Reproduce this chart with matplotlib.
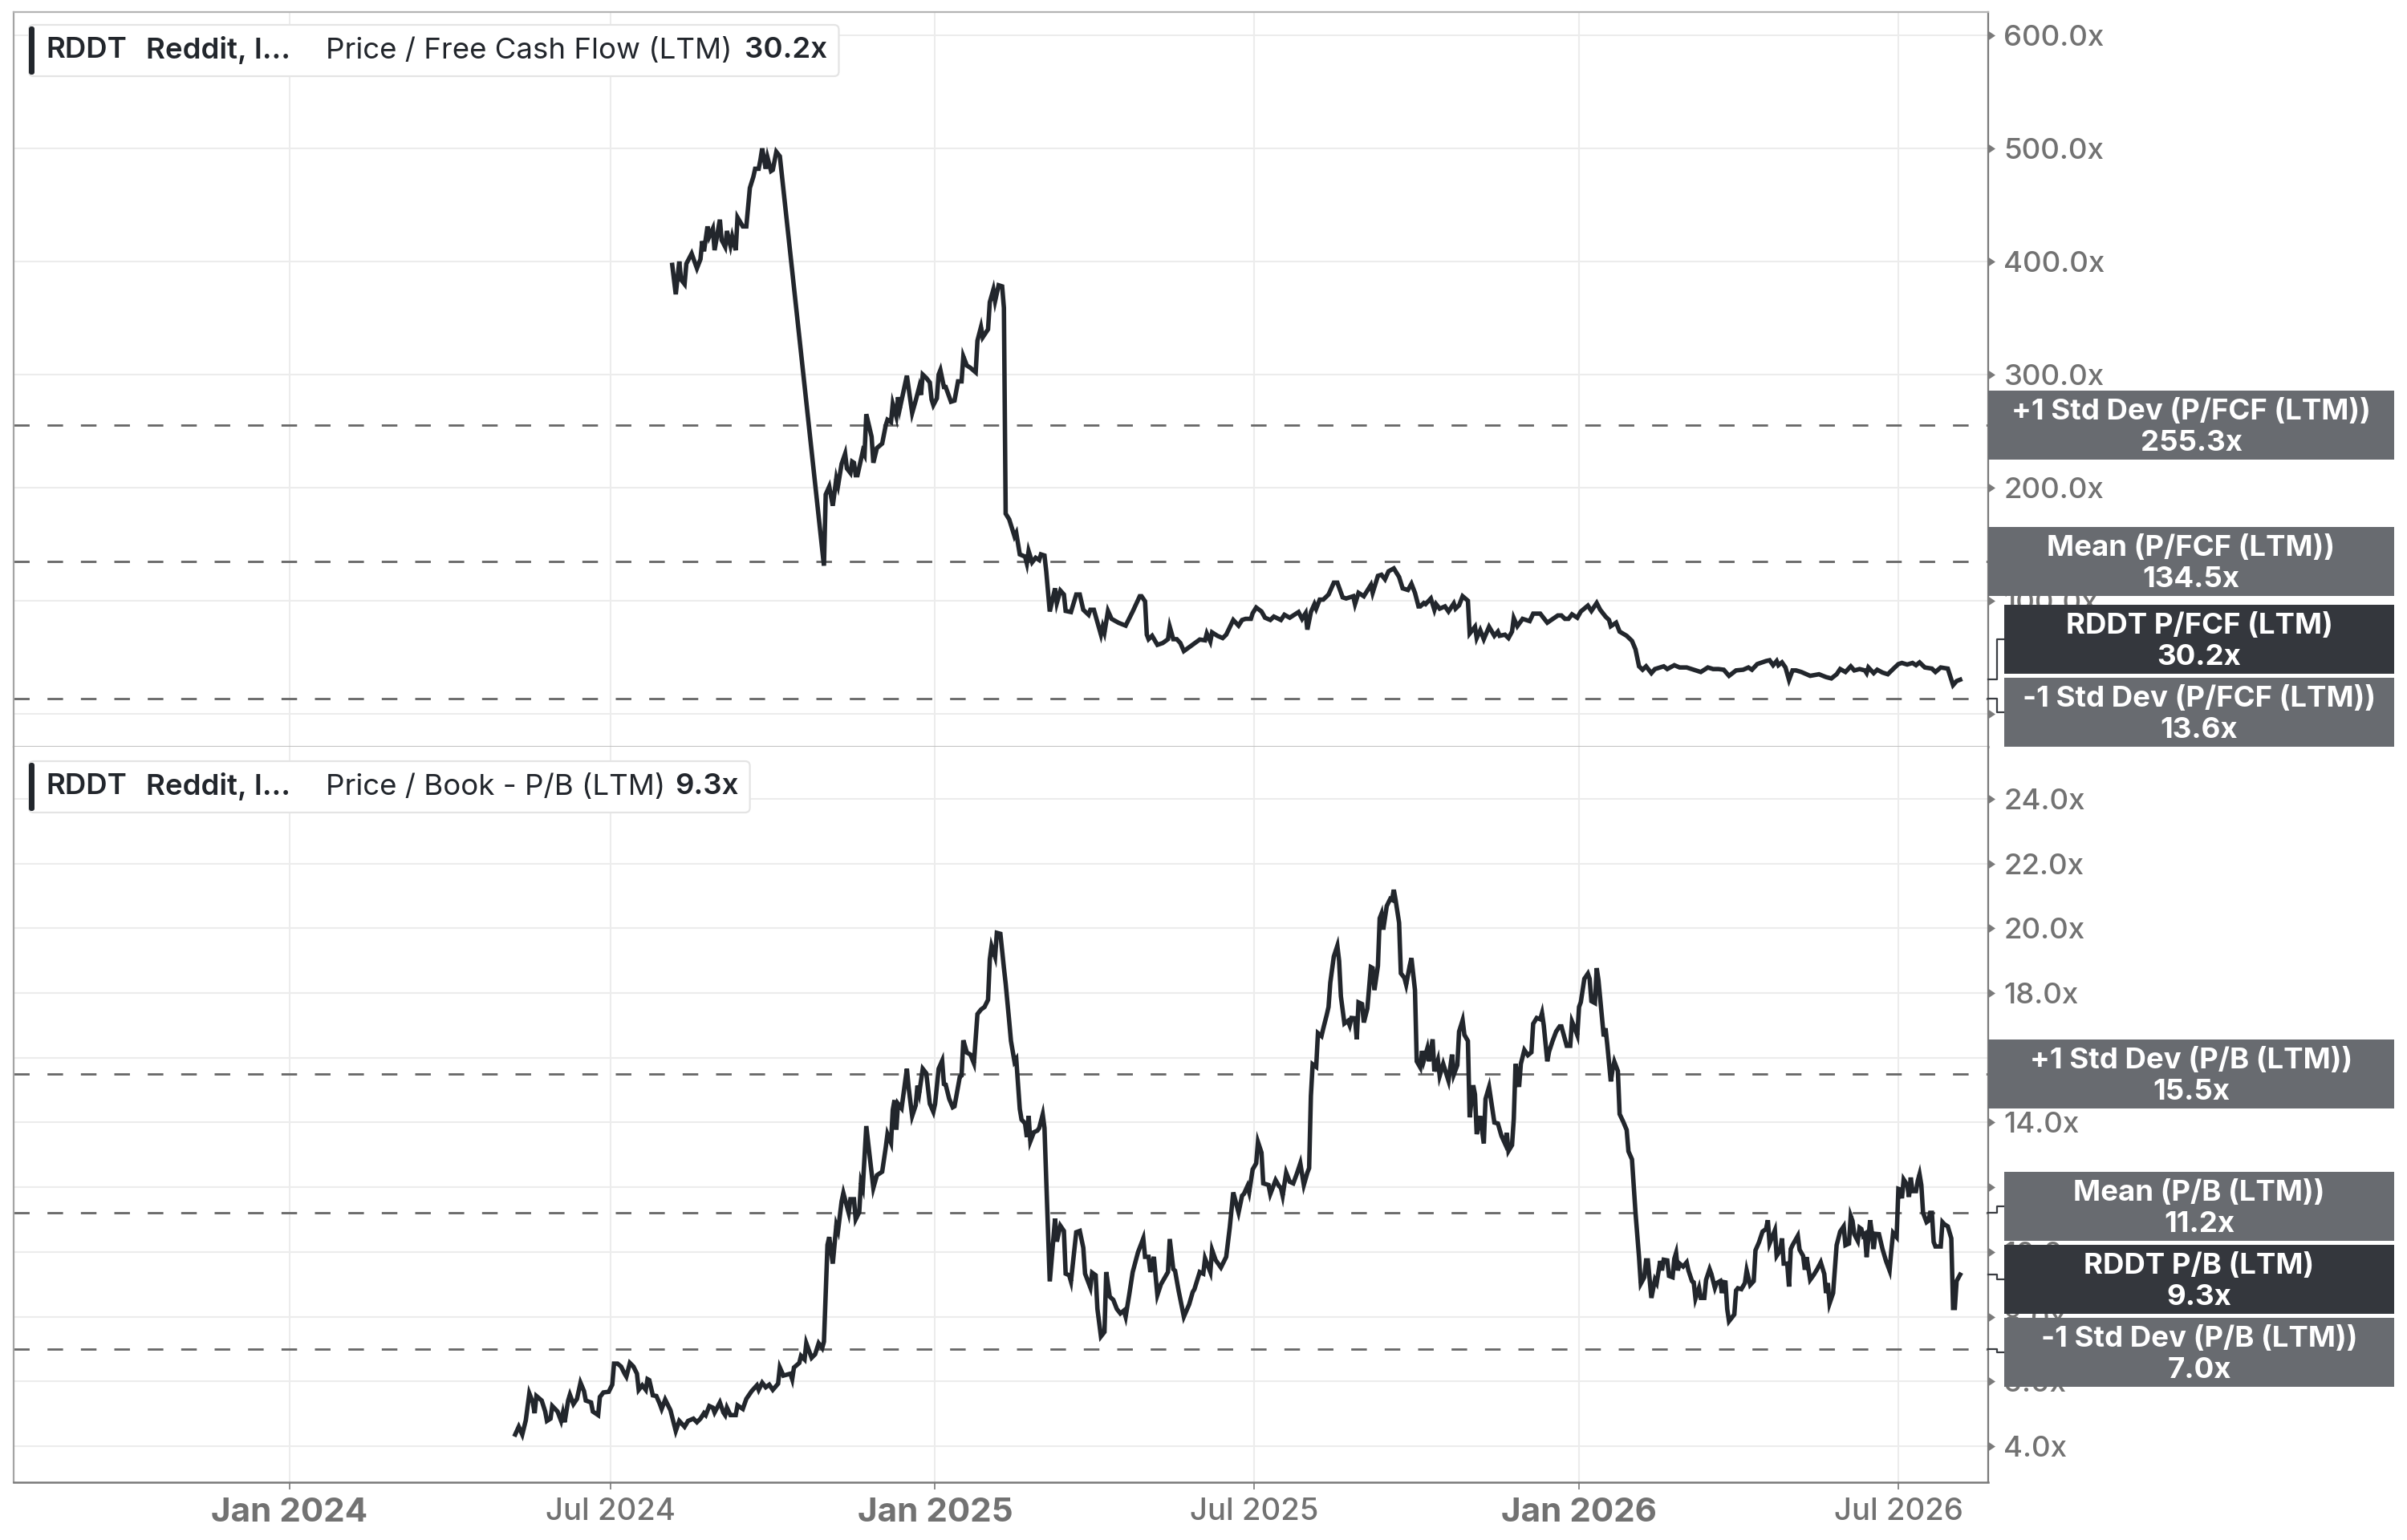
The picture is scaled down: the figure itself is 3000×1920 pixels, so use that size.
import numpy as np
import pandas as pd
import matplotlib
matplotlib.use("Agg")
import matplotlib.pyplot as plt
from matplotlib.patches import Rectangle, FancyBboxPatch
from matplotlib.lines import Line2D
from matplotlib.transforms import IdentityTransform

plt.rcParams["font.family"] = ["Inter", "Roboto", "DejaVu Sans"]

# canvas / colours
W, H, DPI = 3000, 1920, 200
INK = "#22262c"
TAG_GREY = "#686b70"
TAG_DARK = "#34373d"
AXIS_GREY = "#7a7a7a"
LABEL_GREY = "#727272"
GRID = "#ececec"

START = pd.Timestamp("2024-01-01")  # day offsets below count from here

# Price / Free Cash Flow (LTM)
pfcf_days = [217, 219, 221, 222, 224, 225, 228, 231, 233, 234, 235, 237, 238, 240, 241, 244, 245, 247, 248, 250,
             251, 253, 254, 257, 259, 261, 263, 264, 266, 267, 268, 270, 271, 273, 274, 276, 278,
             303, 304, 306, 308, 310, 311, 313, 315, 316, 318, 319, 320, 321, 322, 325, 326, 327, 330, 331,
             333, 336, 338, 339, 341, 342, 344, 345, 346, 350, 353, 355, 357, 358, 359, 361, 363, 364, 365,
             367, 368, 369, 371, 372, 375, 377, 379, 381, 382, 384, 386, 389, 390, 392, 393, 396, 397, 399,
             400, 402, 404, 405, 406, 408, 410, 411, 412, 414, 417, 418, 419, 421, 423, 425, 426, 428, 429,
             431, 434, 435, 437, 439, 440, 443, 446, 448, 450, 453, 454, 456, 460, 461, 462, 464, 466, 470,
             474, 478, 482, 483, 485, 486, 487, 489, 492, 495, 498, 499, 501, 503, 505, 507, 511, 516, 519,
             520, 522, 523, 526, 529, 531, 535, 538, 540, 542, 545, 546, 548, 551, 553, 556, 558, 562, 564,
             567, 572, 574, 576, 577, 579, 581, 582, 584, 586, 589, 592, 594, 597, 599, 603, 604, 606, 609,
             613, 614, 617, 619, 621, 623, 626, 629, 631, 634, 636, 638, 640, 641, 643, 644, 647, 649, 650,
             652, 655, 657, 660, 661, 663, 665, 668, 669, 672, 673, 675, 677, 680, 683, 685, 686, 689, 691,
             693, 694, 696, 699, 703, 705, 709, 713, 719, 721, 723, 725, 727, 730, 732, 736, 738, 741, 743,
             746, 748, 749, 752, 754, 758, 761, 763, 765, 767, 769, 772, 774, 777, 779, 781, 785, 788, 792,
             796, 800, 804, 807, 810, 813, 816, 820, 824, 827, 829, 832, 837, 839, 841, 843, 844, 846, 848,
             850, 852, 854, 857, 862, 867, 871, 874, 877, 879, 882, 885, 887, 890, 893, 894, 895, 898, 900,
             903, 906, 909, 912, 914, 917, 920, 922, 924, 927, 931, 933, 936, 940, 943, 945, 947]
pfcf_vals = [397, 371, 400, 384, 380, 398, 407, 394, 402, 418, 409, 431, 422, 429, 410, 437, 419, 413, 427, 414,
             422, 410, 439, 431, 431, 465, 475, 482, 482, 490, 500, 482, 492, 480, 481, 497, 493,
             131, 194, 201, 184, 208, 202, 221, 230, 217, 213, 223, 222, 211, 211, 232, 229, 265, 245, 222,
             235, 239, 255, 260, 258, 274, 263, 280, 270, 299, 266, 277, 289, 282, 300, 297, 293, 278, 273,
             279, 300, 304, 289, 289, 276, 277, 294, 294, 316, 308, 306, 302, 330, 342, 333, 340, 364, 375,
             365, 379, 378, 359, 177, 172, 162, 157, 160, 141, 139, 133, 144, 134, 138, 136, 141, 140, 126,
             90.5, 111, 98, 109, 105.5, 91, 90, 105.5, 105.5, 92, 87.6, 92, 92, 70, 77, 72, 91, 84, 80.5,
             78, 90.5, 104, 104, 99.5, 70, 66, 69, 61, 62.6, 66, 77, 66, 66, 62.6, 55.5, 60, 65.7, 65,
             71, 64, 72, 69, 67, 70, 83, 78, 83, 84, 84, 89, 94, 90.5, 85, 83, 86, 83, 87.6,
             85, 90, 84, 89, 74.5, 90, 97, 93, 101, 101, 105.5, 116, 116, 103, 102, 104, 97, 107, 104,
             114, 107, 122, 123, 119, 126, 128.6, 121, 111, 109.5, 115, 107, 95, 95, 98, 97, 102, 92, 97,
             93, 95, 90.5, 97.6, 93, 96, 104, 100, 71, 77, 67, 74, 66, 77, 69, 72.7, 69, 70, 67,
             72.7, 84.6, 77.5, 84, 82, 88.6, 88.6, 80.6, 87, 87, 84, 84, 88, 85, 90.5, 95.7, 91, 98, 92,
             86, 83, 77.5, 80.6, 72.7, 69, 64.5, 57, 42, 39, 42, 36, 39.6, 41, 42, 39.6, 43, 41, 41,
             39, 37, 41, 39.6, 39.6, 39, 33.6, 38.4, 39, 41, 39, 44, 46.7, 47.4, 43, 46.7, 43, 45.5, 41,
             30, 38.4, 38.4, 37, 33.6, 35, 32.5, 31.3, 35, 39.6, 37, 42, 38.4, 39.6, 38.4, 36, 41, 36, 39,
             36.5, 35, 39.6, 44, 45, 43.6, 45, 43, 45.5, 41, 40, 37, 41, 40, 25.4, 29, 30.2]
pfcf_last = 30.2
pfcf_mean = 134.5
pfcf_std_hi = 255.3
pfcf_std_lo = 13.6

# Price / Book - P/B (LTM)
pb_days = [128, 130, 132, 134, 136, 138, 139, 140, 143, 145, 146, 148, 149, 152, 154, 155, 156, 158, 159, 161,
           163, 165, 167, 168, 171, 172, 175, 176, 178, 181, 183, 184, 186, 188, 190, 191, 193, 195, 197, 198,
           200, 202, 203, 204, 206, 208, 210, 211, 213, 216, 219, 221, 224, 226, 229, 231, 233, 235, 236, 238,
           240, 241, 244, 246, 247, 248, 250, 253, 254, 257, 259, 262, 265, 266, 268, 270, 272, 274, 277, 278,
           280, 284, 285, 286, 289, 290, 292, 293, 296, 298, 300, 302, 303, 305, 306, 308, 310, 311, 313, 314,
           317, 318, 320, 321, 323, 324, 325, 327, 329, 331, 333, 336, 338, 339, 341, 342, 343, 344, 345, 347,
           350, 351, 353, 355, 356, 357, 359, 361, 363, 365, 366, 368, 370, 371, 372, 374, 376, 377, 380, 381,
           382, 384, 386, 388, 390, 392, 394, 396, 397, 398, 400, 401, 403, 405, 406, 408, 409, 411, 412, 414,
           415, 417, 418, 419, 420, 422, 424, 425, 427, 428, 429, 431, 434, 435, 437, 439, 440, 442, 443, 446,
           448, 450, 451, 454, 455, 457, 458, 460, 462, 463, 465, 467, 469, 471, 473, 474, 476, 478, 481, 484,
           485, 487, 488, 490, 492, 494, 496, 498, 499, 501, 502, 504, 507, 510, 512, 513, 516, 518, 519, 522,
           523, 525, 528, 531, 533, 535, 538, 540, 541, 543, 544, 546, 548, 549, 551, 552, 555, 556, 559, 561,
           562, 563, 565, 567, 569, 571, 573, 575, 577, 578, 579, 580, 582, 583, 585, 586, 588, 589, 590, 592,
           594, 595, 596, 598, 600, 601, 602, 604, 605, 606, 608, 609, 611, 613, 614, 615, 617, 618, 619, 620,
           622, 624, 625, 626, 627, 629, 630, 632, 633, 635, 636, 638, 639, 641, 642, 643, 645, 646, 648, 649,
           651, 652, 654, 657, 659, 660, 662, 663, 665, 666, 668, 669, 671, 672, 673, 675, 677, 678, 680, 681,
           683, 685, 687, 689, 690, 691, 693, 694, 695, 697, 698, 700, 702, 704, 705, 707, 709, 710, 711, 713,
           714, 716, 718, 720, 721, 724, 726, 727, 728, 730, 731, 732, 734, 736, 737, 738, 740, 741, 742, 744,
           745, 746, 747, 749, 750, 751, 753, 754, 756, 758, 759, 761, 762, 763, 765, 766, 768, 769, 770, 772,
           774, 775, 777, 778, 779, 781, 782, 784, 785, 786, 787, 788, 790, 792, 793, 795, 796, 797, 799, 800,
           802, 803, 805, 806, 808, 809, 811, 812, 813, 814, 815, 816, 819, 820, 821, 823, 825, 826, 828, 830,
           831, 833, 835, 837, 838, 839, 842, 843, 845, 846, 847, 849, 850, 851, 852, 855, 856, 858, 859, 860,
           862, 864, 866, 868, 870, 871, 872, 873, 875, 877, 879, 881, 882, 884, 885, 886, 887, 889, 890, 891,
           892, 893, 894, 896, 897, 898, 899, 901, 903, 905, 907, 908, 909, 911, 912, 913, 914, 915, 917, 918,
           919, 920, 922, 923, 924, 925, 926, 928, 929, 930, 931, 932, 933, 936, 937, 938, 940, 942, 943, 944,
           945, 947]
pb_vals = [4.36, 4.60, 4.36, 4.80, 5.63, 5.35, 5.02, 5.55, 5.41, 5.07, 4.78, 4.85, 5.24, 5.07, 4.78, 5.02, 4.74, 5.41, 5.59, 5.30,
           5.46, 5.96, 5.70, 5.41, 5.35, 5.07, 4.96, 5.52, 5.66, 5.68, 5.90, 6.55, 6.55, 6.46, 6.24, 6.15, 6.57, 6.46, 6.24, 5.74,
           5.88, 5.74, 6.07, 6.04, 5.57, 5.55, 5.30, 5.15, 5.44, 5.11, 4.47, 4.78, 4.60, 4.78, 4.85, 4.74, 4.85, 5.02, 4.96, 5.24,
           5.19, 5.04, 5.35, 5.04, 4.96, 5.19, 4.96, 4.96, 5.26, 5.15, 5.46, 5.70, 5.88, 5.74, 5.96, 5.82, 5.90, 5.74, 5.93, 6.43,
           6.18, 6.24, 6.07, 6.43, 6.57, 6.79, 6.68, 7.18, 6.73, 6.84, 7.18, 7.03, 7.23, 10.22, 10.46, 9.64, 10.82, 10.66, 11.56, 11.82,
           11.21, 11.63, 11.63, 11.01, 11.23, 12.15, 11.98, 13.89, 12.92, 11.98, 12.37, 12.48, 13.22, 13.64, 13.37, 14.39, 14.69, 13.78, 14.58, 14.44,
           15.66, 15.08, 14.20, 14.53, 15.14, 14.91, 15.66, 15.52, 14.58, 14.33, 14.58, 15.66, 15.91, 15.19, 15.17, 14.73, 14.47, 14.50, 15.41, 15.45,
           16.54, 16.16, 16.10, 15.83, 17.35, 17.49, 17.57, 17.79, 19.04, 19.45, 19.12, 19.86, 19.83, 18.78, 18.29, 17.13, 16.52, 15.88, 15.96, 14.42,
           14.09, 13.97, 13.55, 14.20, 13.42, 13.70, 13.75, 13.83, 14.25, 13.83, 12.22, 9.09, 11.03, 10.32, 10.81, 10.65, 9.33, 9.28, 9.09, 10.61,
           10.65, 10.13, 9.33, 8.90, 9.36, 9.28, 8.24, 7.39, 7.53, 9.38, 8.62, 8.52, 8.24, 8.10, 8.19, 8.00, 8.67, 9.38, 9.99, 10.42,
           9.85, 9.85, 9.38, 9.85, 8.67, 9.00, 9.19, 9.38, 10.40, 9.47, 9.42, 8.81, 8.00, 8.38, 8.76, 8.85, 9.38, 9.33, 9.80, 9.38,
           10.06, 9.75, 9.52, 9.85, 10.75, 11.84, 11.22, 11.74, 11.79, 12.03, 11.84, 12.55, 12.74, 13.40, 13.07, 12.12, 12.07, 11.79, 12.22, 12.03,
           11.98, 11.74, 12.45, 12.17, 12.12, 12.41, 12.74, 12.07, 12.45, 12.59, 14.82, 15.80, 15.72, 16.76, 16.67, 16.90, 17.33, 17.57, 18.32, 19.13,
           19.46, 18.99, 17.90, 17.06, 17.14, 17.00, 17.23, 17.22, 16.57, 17.71, 17.66, 17.09, 17.52, 18.80, 18.77, 18.09, 18.84, 20.31, 20.45, 19.96,
           20.69, 20.91, 20.88, 21.19, 20.88, 20.17, 18.61, 18.47, 18.26, 18.84, 19.08, 18.09, 15.89, 15.70, 16.21, 15.91, 16.29, 15.89, 16.57, 15.58,
           15.93, 15.44, 15.81, 15.29, 16.10, 15.48, 15.77, 16.81, 17.16, 16.71, 16.52, 14.16, 15.15, 14.87, 13.64, 14.20, 13.35, 14.73, 15.10, 14.73,
           14.00, 13.97, 13.59, 13.35, 13.68, 13.12, 13.30, 14.11, 15.81, 15.10, 15.81, 16.24, 16.08, 16.17, 17.05, 17.23, 17.19, 17.38, 17.00, 15.89,
           16.19, 16.52, 16.81, 16.97, 16.97, 16.37, 16.37, 17.12, 16.99, 16.70, 17.57, 17.72, 18.44, 18.60, 18.44, 17.75, 17.69, 18.77, 18.40, 17.24,
           16.66, 16.91, 16.41, 15.27, 15.63, 15.88, 15.59, 14.26, 14.03, 13.77, 13.11, 12.86, 12.03, 11.21, 9.84, 9.02, 9.22, 9.74, 9.74, 8.58,
           9.14, 9.04, 9.72, 9.43, 9.76, 9.74, 9.26, 9.22, 9.79, 9.97, 9.43, 9.64, 9.55, 9.68, 9.43, 9.10, 9.06, 8.56, 8.89, 8.58,
           8.58, 9.14, 9.47, 9.32, 8.89, 9.04, 9.10, 8.73, 9.07, 9.06, 8.23, 7.86, 8.07, 8.81, 8.88, 8.85, 9.04, 9.43, 8.98, 9.10,
           10.05, 10.30, 10.63, 10.71, 10.98, 10.26, 10.67, 9.88, 10.05, 10.42, 9.64, 9.64, 8.93, 10.09, 10.21, 10.50, 10.07, 9.88, 9.45, 9.84,
           9.14, 9.29, 9.47, 9.68, 9.32, 8.73, 9.04, 8.41, 8.73, 10.21, 10.63, 10.79, 10.21, 10.26, 11.11, 10.96, 10.55, 10.34, 10.75, 10.71,
           10.50, 10.55, 9.84, 10.98, 10.59, 10.09, 10.56, 10.55, 10.09, 9.72, 9.43, 10.05, 10.59, 10.46, 11.95, 11.93, 11.66, 12.24, 12.07, 11.70,
           12.30, 11.88, 11.88, 12.20, 12.40, 12.07, 11.21, 10.92, 10.96, 11.21, 11.21, 10.31, 10.17, 10.17, 10.92, 10.86, 10.79, 10.42, 8.27, 8.27,
           9.10, 9.3]
pb_last = 9.3
pb_mean = 11.2
pb_std_hi = 15.5
pb_std_lo = 7.0

pfcf_ticks = [0, 100, 200, 300, 400, 500, 600]
pb_ticks = [4, 6, 8, 10, 12, 14, 16, 18, 20, 22, 24]
date_ticks = ["2024-01-01", "2024-07-01", "2025-01-01", "2025-07-01", "2026-01-01", "2026-07-01"]
date_labels = ["Jan 2024", "Jul 2024", "Jan 2025", "Jul 2025", "Jan 2026", "Jul 2026"]

# layout in output pixels (y measured from the top)
AX_L, AX_R, TAG_R = 17, 2478, 2984
TOP1, MID, BOT2 = 15, 931, 1848
TAG_H, TAG_STEP = 86, 91
X_LEFT = (START - pd.Timedelta(days=156.3)).to_datetime64()
X_RIGHT = (START + pd.Timedelta(days=962.9)).to_datetime64()

fig = plt.figure(figsize=(W / DPI, H / DPI), dpi=DPI)
fig.patch.set_facecolor("white")
PIX = IdentityTransform()


def add_px_axes(top, bottom):
    return fig.add_axes([AX_L / W, 1 - bottom / H, (AX_R - AX_L) / W, (bottom - top) / H])


def to_dates(days):
    return (START + pd.to_timedelta(np.asarray(days, dtype=float), unit="D")).to_numpy()


def style_panel(ax, ticks, ylim):
    ax.yaxis.tick_right()
    ax.set_yticks(ticks)
    ax.set_yticklabels([f"{t:.1f}x" for t in ticks])
    ax.tick_params(axis="y", length=0, pad=7, labelsize=13.2, labelcolor=LABEL_GREY)
    for lbl in ax.get_yticklabels():
        lbl.set_fontweight("medium")
    ax.set_xticks(pd.to_datetime(date_ticks).to_numpy())
    ax.grid(True, color=GRID, lw=0.75)
    ax.set_axisbelow(True)
    ax.plot(np.ones(len(ticks)), ticks, ls="none", marker=9, ms=3, color=AXIS_GREY,
            transform=ax.get_yaxis_transform(), clip_on=False)
    ax.set_xlim(X_LEFT, X_RIGHT)
    ax.set_ylim(*ylim)


ax1 = add_px_axes(TOP1, MID)
ax2 = add_px_axes(MID, BOT2)

for ax, days, vals, stats in [(ax1, pfcf_days, pfcf_vals, (pfcf_std_hi, pfcf_mean, pfcf_std_lo)),
                              (ax2, pb_days, pb_vals, (pb_std_hi, pb_mean, pb_std_lo))]:
    for s in stats:
        ax.axhline(s, color="#666666", lw=1.0, dashes=(7, 8), zorder=2)
    ax.plot(to_dates(days), vals, color=INK, lw=2.0, zorder=3, solid_joinstyle="miter")

style_panel(ax1, pfcf_ticks, (-29.1, 620.6))
style_panel(ax2, pb_ticks, (2.885, 25.61))

ax1.tick_params(axis="x", length=0, labelbottom=False)
ax2.set_xticklabels(date_labels)
ax2.tick_params(axis="x", length=3.2, width=0.6, color=AXIS_GREY, pad=3.5, labelcolor=LABEL_GREY)
for lbl in ax2.get_xticklabels():
    if lbl.get_text().startswith("Jan"):
        lbl.set_fontweight("bold")
        lbl.set_fontsize(15.2)
    else:
        lbl.set_fontweight("medium")
        lbl.set_fontsize(13.8)

for ax in (ax1, ax2):
    ax.spines["left"].set_color("#a4a4a4")
    ax.spines["left"].set_linewidth(0.8)
    ax.spines["right"].set_color(AXIS_GREY)
    ax.spines["right"].set_linewidth(0.8)
ax1.spines["top"].set_color("#b4b4b4")
ax1.spines["top"].set_linewidth(0.8)
ax1.spines["bottom"].set_color("#c2c2c2")
ax1.spines["bottom"].set_linewidth(1.1)
ax2.spines["top"].set_visible(False)
ax2.spines["bottom"].set_color(AXIS_GREY)
ax2.spines["bottom"].set_linewidth(0.9)


def value_py(ax, v):
    return H - ax.get_yaxis_transform().transform((1, v))[1]


def stack_centres(nat, lo, hi):
    order = sorted(range(len(nat)), key=lambda i: nat[i])
    groups = [[i] for i in order]
    half = TAG_H / 2

    def first_centre(g):
        c = np.mean([nat[i] for i in g]) - (len(g) - 1) * TAG_STEP / 2
        c = max(c, lo + half)
        return min(c, hi - half - (len(g) - 1) * TAG_STEP)

    merged = True
    while merged:
        merged = False
        for k in range(len(groups) - 1):
            a, b = groups[k], groups[k + 1]
            if first_centre(b) < first_centre(a) + len(a) * TAG_STEP:
                groups[k] = a + b
                del groups[k + 1]
                merged = True
                break
    centres = [0.0] * len(nat)
    for g in groups:
        c0 = first_centre(g)
        for j, i in enumerate(g):
            centres[i] = c0 + j * TAG_STEP
    return centres


def draw_tags(ax, tags, lo, hi):
    nat = [value_py(ax, v) for _, v, _ in tags]
    centres = stack_centres(nat, lo, hi)
    for (label, v, colour), n, c in zip(tags, nat, centres):
        moved = abs(c - n) > 1
        left = AX_R + (20 if moved else 0)
        top = c - TAG_H / 2
        fig.add_artist(Rectangle((left, H - top - TAG_H), TAG_R - left, TAG_H, transform=PIX,
                                 facecolor=colour, edgecolor="none", zorder=20))
        if moved:
            fig.add_artist(Line2D([AX_R, AX_R + 11, AX_R + 11, left], [H - n, H - n, H - c, H - c],
                                  transform=PIX, color="#3a3d42", lw=0.8, zorder=19))
        cx = (left + TAG_R) / 2
        fig.text(cx, H - (top + 36), label, transform=PIX, ha="center", va="baseline",
                 color="white", fontsize=13.2, fontweight="bold", zorder=21)
        fig.text(cx, H - (top + 75), f"{v:.1f}x", transform=PIX, ha="center", va="baseline",
                 color="white", fontsize=13.2, fontweight="bold", zorder=21)


draw_tags(ax1, [("+1 Std Dev (P/FCF (LTM))", pfcf_std_hi, TAG_GREY),
                ("Mean (P/FCF (LTM))", pfcf_mean, TAG_GREY),
                ("RDDT P/FCF (LTM)", pfcf_last, TAG_DARK),
                ("-1 Std Dev (P/FCF (LTM))", pfcf_std_lo, TAG_GREY)], TOP1, MID)
draw_tags(ax2, [("+1 Std Dev (P/B (LTM))", pb_std_hi, TAG_GREY),
                ("Mean (P/B (LTM))", pb_mean, TAG_GREY),
                ("RDDT P/B (LTM)", pb_last, TAG_DARK),
                ("-1 Std Dev (P/B (LTM))", pb_std_lo, TAG_GREY)], MID, BOT2)


def legend_box(box_top, box_bot, parts):
    renderer = fig.canvas.get_renderer()
    mid = H - (box_top + box_bot) / 2
    x = 57
    right = x
    for txt, weight, gap in parts:
        t = fig.text(x, mid, txt, transform=PIX, ha="left", va="center", color=INK,
                     fontsize=13.2, fontweight=weight, zorder=13)
        bb = t.get_window_extent(renderer)
        right = bb.x1
        x = bb.x1 + gap
    fig.add_artist(FancyBboxPatch((36, H - box_bot), right + 14 - 36, box_bot - box_top, transform=PIX,
                                  boxstyle="round,pad=0,rounding_size=6", facecolor="white",
                                  edgecolor="#e4e4e4", lw=0.8, zorder=12))
    fig.add_artist(FancyBboxPatch((36, H - box_bot + 2), 7, box_bot - box_top - 4, transform=PIX,
                                  boxstyle="round,pad=0,rounding_size=3", facecolor=INK,
                                  edgecolor="none", zorder=13))


legend_box(31, 95, [("RDDT", "semibold", 24), ("Reddit, I\u2026", "semibold", 44),
                    ("Price / Free Cash Flow (LTM)", "normal", 16), (f"{pfcf_last:.1f}x", "semibold", 0)])
legend_box(949, 1013, [("RDDT", "semibold", 24), ("Reddit, I\u2026", "semibold", 44),
                       ("Price / Book - P/B (LTM)", "normal", 12), (f"{pb_last:.1f}x", "semibold", 0)])

fig.savefig("out.png", dpi=DPI, facecolor="white")
